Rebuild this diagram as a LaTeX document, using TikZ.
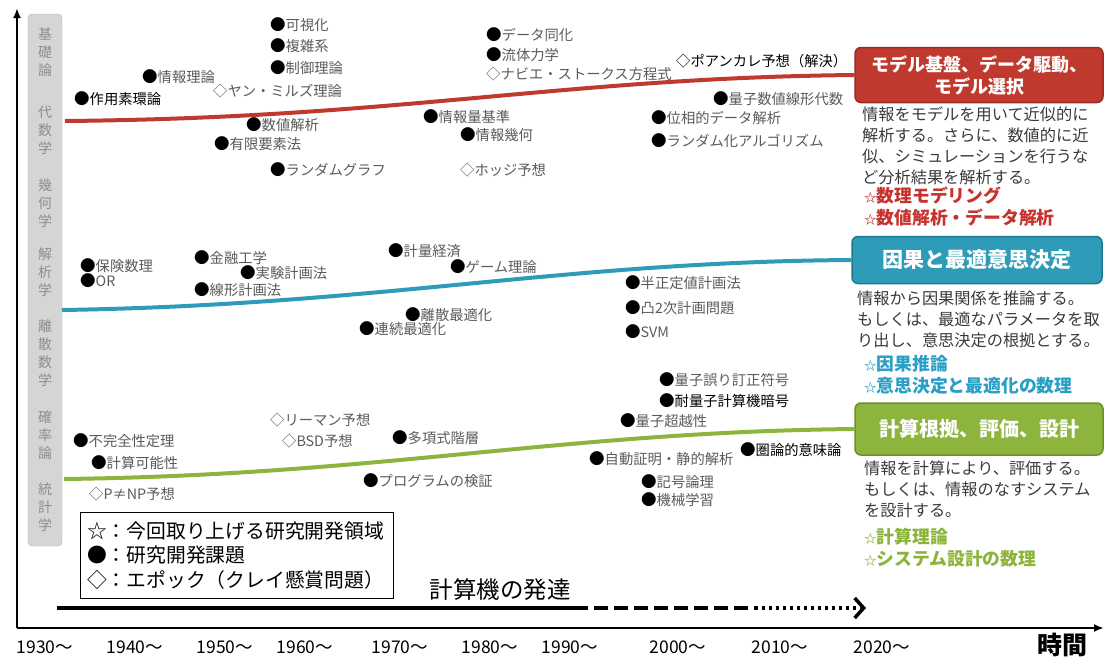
\documentclass[tikz,border=0pt]{standalone}
\usepackage{fontspec}
\setmainfont{Noto Sans CJK JP}
\usetikzlibrary{arrows.meta}
\definecolor{cred}{HTML}{C0392F}
\definecolor{credd}{HTML}{9E2A25}
\definecolor{cblue}{HTML}{2E9CB8}
\definecolor{cblued}{HTML}{1D7890}
\definecolor{cgreen}{HTML}{8DB43C}
\definecolor{cgreend}{HTML}{6B8E2A}
\definecolor{lgray}{HTML}{5A5A5A}
\definecolor{tgray}{HTML}{3A3A3A}
\definecolor{sgray}{HTML}{8E8E8E}
\definecolor{sfill}{HTML}{D5D5D5}
\definecolor{sdraw}{HTML}{B2B2B2}
\definecolor{starred}{HTML}{C8322E}
\definecolor{starblue}{HTML}{2A9FC6}
\definecolor{stargreen}{HTML}{8CB43A}
\newcommand\fs[1]{\fontsize{#1}{#1}\selectfont}
\newcommand\bul{\textcolor{black}{\fontsize{15.5}{15.5}\selectfont ●}}
\newcommand\st{{\fontsize{12.5}{12.5}\selectfont ☆}}
\tikzset{
  lbl/.style={anchor=west, inner sep=0pt, text=lgray, font=\fs{14.3}},
  lblk/.style={lbl, text=black},
  catbox/.style={rounded corners=6pt, line width=1.5pt, text=white, align=center, minimum width=248pt},
  desc/.style={anchor=north west, inner sep=0pt, align=left, text=tgray, font=\fontsize{16.2}{21}\selectfont},
  stars/.style={anchor=north west, inner sep=0pt, align=left, font=\bfseries\fontsize{17.8}{22}\selectfont},
  trend/.style={line width=4pt},
  side/.style={text=sgray, font=\fontsize{14}{18}\selectfont, align=center, inner sep=0pt},
  year/.style={font=\fs{17.5}, text=black, inner sep=0pt},
  axisline/.style={line width=2.5pt, -{Latex[length=10pt,width=8pt]}},
}
\begin{document}
\begin{tikzpicture}[x=1pt,y=-1pt]
\useasboundingbox (0,0) rectangle (1105,659);
% axes
\coordinate (origin) at (17,628);
\coordinate (ytop) at (17,8);
\coordinate (xend) at (1104,628);
\draw[axisline] (origin) -- (ytop);
\draw[axisline] (origin) -- (xend);
% sidebar
\node[draw=sdraw, fill=sfill, rounded corners=4pt, minimum width=34pt, minimum height=532pt, inner sep=0pt] (sidebar) at (45,280) {};
\node[side] (s1) at (45,52) {基\\礎\\論};
\node[side] (s2) at (45,130) {代\\数\\学};
\node[side] (s3) at (45,203) {幾\\何\\学};
\node[side] (s4) at (45,272) {解\\析\\学};
\node[side] (s5) at (45,353) {離\\散\\数\\学};
\node[side] (s6) at (45,435) {確\\率\\論};
\node[side] (s7) at (45,507) {統\\計\\学};
% category boxes
\node[catbox, draw=credd, fill=cred, minimum height=55pt, font=\bfseries\fontsize{18}{22}\selectfont] (rbox) at (979,75) {モデル基盤、データ駆動、\\モデル選択};
\node[catbox, draw=cblued, fill=cblue, minimum width=250pt, minimum height=47pt, font=\bfseries\fs{21}] (bbox) at (977,260) {因果と最適意思決定};
\node[catbox, draw=cgreend, fill=cgreen, minimum height=52pt, font=\bfseries\fs{20}] (gbox) at (979,429) {計算根拠、評価、設計};
% trend curves
\coordinate (rs) at (65,121);
\coordinate (bs) at (62,310);
\coordinate (gs) at (64,479);
\draw[trend, cred] (rs) .. controls (400,118) and (560,78) .. (rbox.west);
\draw[trend, cblue] (bs) .. controls (380,305) and (560,262) .. (bbox.west);
\draw[trend, cgreen] (gs) .. controls (380,475) and (560,432) .. (gbox.west);
% descriptions
\node[desc] (rdesc) at (862,106) {情報をモデルを用いて近似的に\\解析する。さらに、数値的に近\\似、シミュレーションを行うな\\ど分析結果を解析する。};
\node[stars, text=starred] (rstar) at (864,187) {\st 数理モデリング\\\st 数値解析・データ解析};
\node[desc] (bdesc) at (857,291) {情報から因果関係を推論する。\\もしくは、最適なパラメータを取\\り出し、意思決定の根拠とする。};
\node[stars, text=starblue] (bstar) at (864,355) {\st 因果推論\\\st 意思決定と最適化の数理};
\node[desc] (gdesc) at (864,461) {情報を計算により、評価する。\\もしくは、情報のなすシステム\\を設計する。};
\node[stars, text=stargreen] (gstar) at (864,528) {\st 計算理論\\\st システム設計の数理};
% red group labels
\node[lblk] (r1) at (74,99) {\bul 作用素環論};
\node[lbl] (r2) at (142,77) {\bul 情報理論};
\node[lbl] (r3) at (213,91) {◇ヤン・ミルズ理論};
\node[lbl] (r4) at (270,25) {\bul 可視化};
\node[lbl] (r5) at (270,46) {\bul 複雑系};
\node[lbl] (r6) at (270,68) {\bul 制御理論};
\node[lbl] (r7) at (246,125) {\bul 数値解析};
\node[lbl] (r8) at (214,144) {\bul 有限要素法};
\node[lbl] (r9) at (270,170) {\bul ランダムグラフ};
\node[lbl] (r10) at (486,35) {\bul データ同化};
\node[lbl] (r11) at (486,55) {\bul 流体力学};
\node[lbl] (r12) at (486,74) {◇ナビエ・ストークス方程式};
\node[lblk] (r13) at (676,61) {◇ポアンカレ予想（解決）};
\node[lbl] (r14) at (423,117) {\bul 情報量基準};
\node[lbl] (r15) at (460,135) {\bul 情報幾何};
\node[lbl] (r16) at (460,170) {◇ホッジ予想};
\node[lbl] (r17) at (713,99) {\bul 量子数値線形代数};
\node[lbl] (r18) at (651,118) {\bul 位相的データ解析};
\node[lbl] (r19) at (651,141) {\bul ランダム化アルゴリズム};
% blue group labels
\node[lbl] (b1) at (80,266) {\bul 保険数理};
\node[lbl] (b2) at (80,281) {\bul OR};
\node[lbl] (b3) at (194,258) {\bul 金融工学};
\node[lbl] (b4) at (240,273) {\bul 実験計画法};
\node[lbl] (b5) at (194,290) {\bul 線形計画法};
\node[lbl] (b6) at (388,251) {\bul 計量経済};
\node[lbl] (b7) at (450,267) {\bul ゲーム理論};
\node[lbl] (b8) at (405,315) {\bul 離散最適化};
\node[lbl] (b9) at (359,329) {\bul 連続最適化};
\node[lbl] (b10) at (625,283) {\bul 半正定値計画法};
\node[lbl] (b11) at (625,308) {\bul 凸2次計画問題};
\node[lbl] (b12) at (625,332) {\bul SVM};
% green group labels
\node[lbl] (g1) at (73,441) {\bul 不完全性定理};
\node[lbl] (g2) at (91,463) {\bul 計算可能性};
\node[lbl] (g3) at (89,494) {◇P≠NP予想};
\node[lbl] (g4) at (270,420) {◇リーマン予想};
\node[lbl] (g5) at (282,441) {◇BSD予想};
\node[lbl] (g6) at (392,438) {\bul 多項式階層};
\node[lbl] (g7) at (363,481) {\bul プログラムの検証};
\node[lbl] (g8) at (659,380) {\bul 量子誤り訂正符号};
\node[lblk] (g9) at (659,401) {\bul 耐量子計算機暗号};
\node[lbl] (g10) at (620,421) {\bul 量子超越性};
\node[lbl] (g11) at (589,459) {\bul 自動証明・静的解析};
\node[lbl] (g12) at (641,482) {\bul 記号論理};
\node[lbl] (g13) at (641,500) {\bul 機械学習};
\node[lblk] (g14) at (740,450) {\bul 圏論的意味論};
% legend
\node[draw=black, line width=1.2pt, anchor=north west, minimum width=313pt, minimum height=86pt, text width=300pt, align=left, inner xsep=6pt, font=\fontsize{19.8}{24.5}\selectfont] (legend) at (80,512) {☆：今回取り上げる研究開発領域\\●：研究開発課題\\◇：エポック（クレイ懸賞問題）};
% computer development arrow
\node[font=\fs{23.5}, inner sep=0pt] (devtext) at (500,590) {計算機の発達};
\coordinate (c0) at (57,608);
\coordinate (c1) at (574,608);
\coordinate (c2) at (755,608);
\coordinate (c3) at (866,608);
\draw[line width=4pt] (c0) -- (c1);
\draw[line width=4pt, dash pattern=on 14pt off 6pt] (c1) -- (c2);
\draw[line width=4pt, dash pattern=on 3pt off 4pt, -{Straight Barb[length=9pt,width=20pt,line width=3.5pt]}] (c2) -- (c3);
% years
\node[year] (y1) at (45,647) {1930〜};
\node[year] (y2) at (135,647) {1940〜};
\node[year] (y3) at (225,647) {1950〜};
\node[year] (y4) at (305,647) {1960〜};
\node[year] (y5) at (400,647) {1970〜};
\node[year] (y6) at (490,647) {1980〜};
\node[year] (y7) at (570,647) {1990〜};
\node[year] (y8) at (678,647) {2000〜};
\node[year] (y9) at (780,647) {2010〜};
\node[year] (y10) at (882,647) {2020〜};
\node[font=\bfseries\fs{25}, inner sep=0pt] (time) at (1062,645) {時間};
\end{tikzpicture}
\end{document}
